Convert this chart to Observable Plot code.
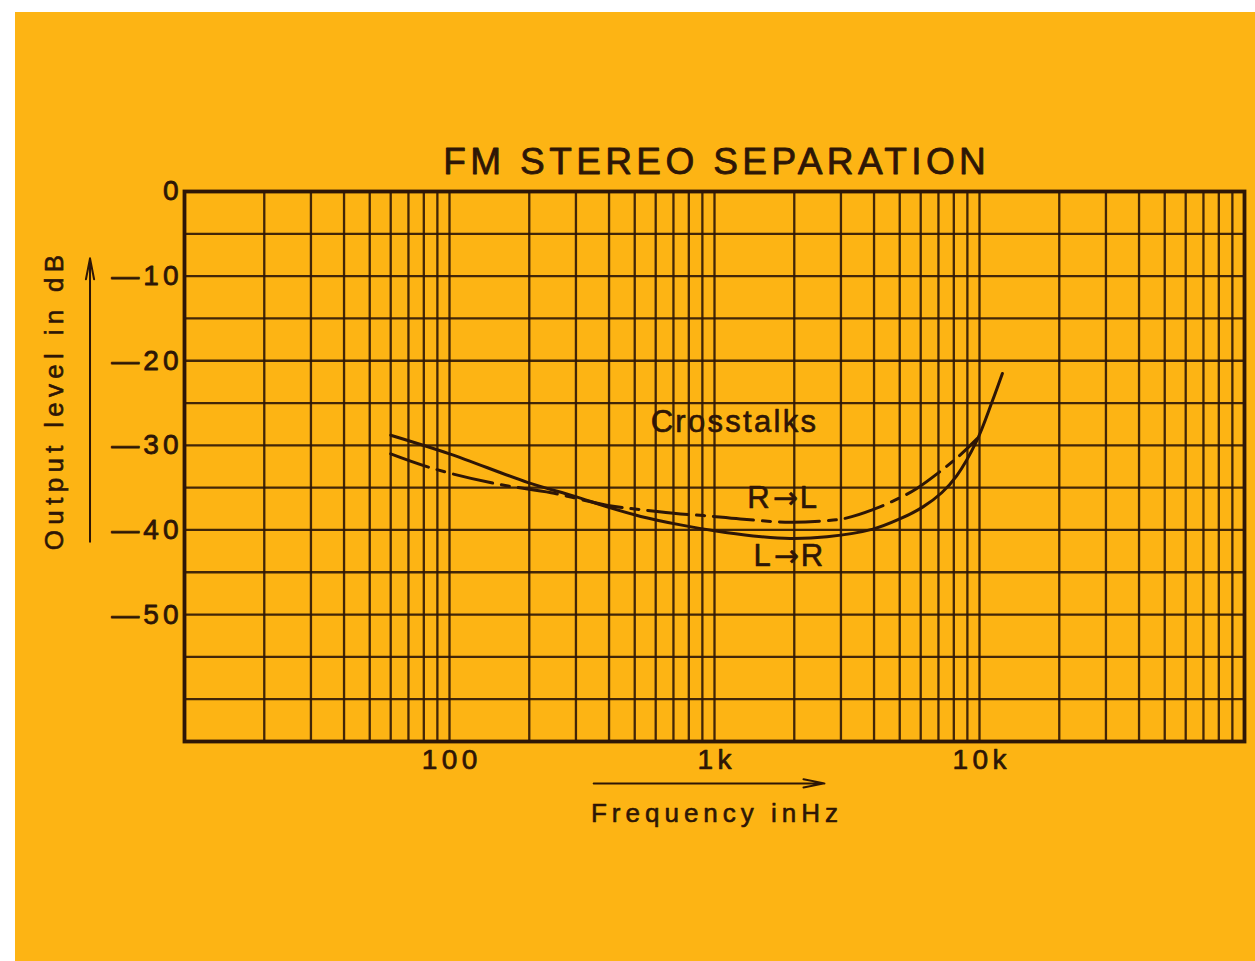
<!DOCTYPE html>
<html><head><meta charset="utf-8">
<script src="https://cdn.jsdelivr.net/npm/d3@7"></script>
<script src="https://cdn.jsdelivr.net/npm/@observablehq/plot@0.6"></script>
<style>
html,body{margin:0;padding:0;background:#fff;width:1255px;height:961px;overflow:hidden;}
#chart{position:absolute;left:15px;top:12px;}
</style></head><body><div id="chart"></div>
<script>
// Crosstalk L→R (solid)
const freqLR = [60, 100, 198, 295, 396, 527, 744, 1000, 1400, 1930, 2660, 3960, 5000, 6100, 7200, 8200, 9750, 11200, 12200];
const dbLR   = [-28.8, -31.0, -34.4, -36.0, -37.3, -38.4, -39.4, -40.1, -40.7, -41.0, -40.8, -39.9, -38.7, -37.3, -35.6, -33.6, -29.5, -24.7, -21.5];
// Crosstalk R→L (dashed)
const freqRL = [60, 88, 153, 242, 396, 527, 744, 910, 1250, 1930, 2660, 3140, 3960, 5000, 5800, 8200, 9800];
const dbRL   = [-31.0, -32.8, -34.6, -35.6, -37.1, -37.6, -38.1, -38.3, -38.7, -39.1, -38.9, -38.6, -37.6, -36.2, -35.1, -31.5, -29.2];

const yTicks = [0, -10, -20, -30, -40, -50];
const yTickLabels = ["0", "—10", "—20", "—30", "—40", "—50"];
const xTicks = [100, 1000, 10000];
const xTickLabels = ["100", "1k", "10k"];
const gridFreqs = [20,30,40,50,60,70,80,90,100,200,300,400,500,600,700,800,900,1000,
  2000,3000,4000,5000,6000,7000,8000,9000,10000,20000,30000,40000,50000,60000,70000,80000,90000];
const gridDb = [-5,-10,-15,-20,-25,-30,-35,-40,-45,-50,-55,-60];

const titleText = "FM STEREO SEPARATION";
const yLabelText = "Output level in dB";
const xLabelText = "Frequency inHz";
const notes = [
  {f: 1178, db: -27.3, t: "Crosstalks"},
  {f: 1800, db: -36.2, t: "R→L"},
  {f: 1900, db: -43.1, t: "L→R"}
];
const axisArrows = [
  {x1: 350, x2: 2600, y1: -69.95, y2: -69.95},
  {x1: 4.4, x2: 4.4, y1: -41.4, y2: -7.9}
];

const ink = "#2e1606";
const FONT = "'Liberation Sans', Arial, Helvetica, sans-serif";
const lr = freqLR.map((f, i) => ({f, db: dbLR[i]}));
const rl = freqRL.map((f, i) => ({f, db: dbRL[i]}));
const heavy = {fill: ink, stroke: ink, strokeWidth: 0.6};

const plot = Plot.plot({
  width: 1240, height: 949,
  marginLeft: 169, marginRight: 11, marginTop: 179, marginBottom: 220,
  style: {background: "#fdb414", color: ink, fontFamily: FONT},
  x: {type: "log", domain: [10, 100000]},
  y: {domain: [-65, 0]},
  marks: [
    Plot.ruleX(gridFreqs, {stroke: ink, strokeWidth: 2.3, strokeOpacity: 0.9}),
    Plot.ruleY(gridDb, {stroke: ink, strokeWidth: 2.3, strokeOpacity: 0.9}),
    Plot.frame({stroke: ink, strokeWidth: 3.8}),
    Plot.axisY({ticks: yTicks, tickFormat: (d) => yTickLabels[yTicks.indexOf(d)], tickSize: 0, tickPadding: 6, fontSize: 28, label: null,
      textStroke: ink, textStrokeWidth: 0.8}),
    Plot.axisX({ticks: xTicks, tickFormat: (d) => xTickLabels[xTicks.indexOf(d)], tickSize: 0, tickPadding: 8, fontSize: 28, label: null,
      textStroke: ink, textStrokeWidth: 0.7}),
    Plot.line(rl, {x: "f", y: "db", stroke: ink, strokeWidth: 3, strokeDasharray: "40,9,8,9", curve: "catmull-rom"}),
    Plot.line(lr, {x: "f", y: "db", stroke: ink, strokeWidth: 3, curve: "catmull-rom"}),
    Plot.text(notes, {x: "f", y: "db", text: "t", fontSize: 31, ...heavy, strokeWidth: 0.6}),
    Plot.text([titleText], {text: (d) => d, frameAnchor: "top", textAnchor: "middle", lineAnchor: "middle", dy: -29, fontSize: 37, ...heavy, strokeWidth: 0.8}),
    Plot.text([yLabelText], {text: (d) => d, frameAnchor: "left", textAnchor: "middle", lineAnchor: "middle", rotate: -90, dx: -130, dy: -64, fontSize: 26, ...heavy, strokeWidth: 0.6}),
    Plot.text([xLabelText], {text: (d) => d, frameAnchor: "bottom", textAnchor: "middle", lineAnchor: "middle", dy: 72, fontSize: 26, ...heavy, strokeWidth: 0.6}),
    Plot.arrow(axisArrows, {x1: "x1", y1: "y1", x2: "x2", y2: "y2", stroke: ink, strokeWidth: 2, headLength: 16, headAngle: 22, clip: false})
  ]
});
document.getElementById("chart").appendChild(plot);

// extra glyph spacing per text (px between glyphs), matched by content
const spacing = new Map([
  [titleText, 4.4], [yLabelText, 5.3], [xLabelText, 5], ["Crosstalks", 2.3],
  ...yTickLabels.map((s) => [s, 4]), ...xTickLabels.map((s) => [s, 4.5])
]);
d3.select(plot).selectAll("text").each(function () {
  const s = this.textContent;
  if (s.includes("→")) {
    const [a, b] = s.split("→");
    const t = d3.select(this).text(null);
    t.append("tspan").text(a);
    t.append("tspan").attr("dx", 3).attr("font-family", "'DejaVu Sans'").attr("font-size", 30).text("→");
    t.append("tspan").attr("dx", 2).text(b);
    return;
  }
  const px = spacing.get(s);
  if (px && s.length > 1) {
    const w = this.getComputedTextLength();
    this.setAttribute("textLength", (w + px * (s.length - 1)).toFixed(1));
    this.setAttribute("lengthAdjust", "spacing");
  }
});
</script></body></html>
